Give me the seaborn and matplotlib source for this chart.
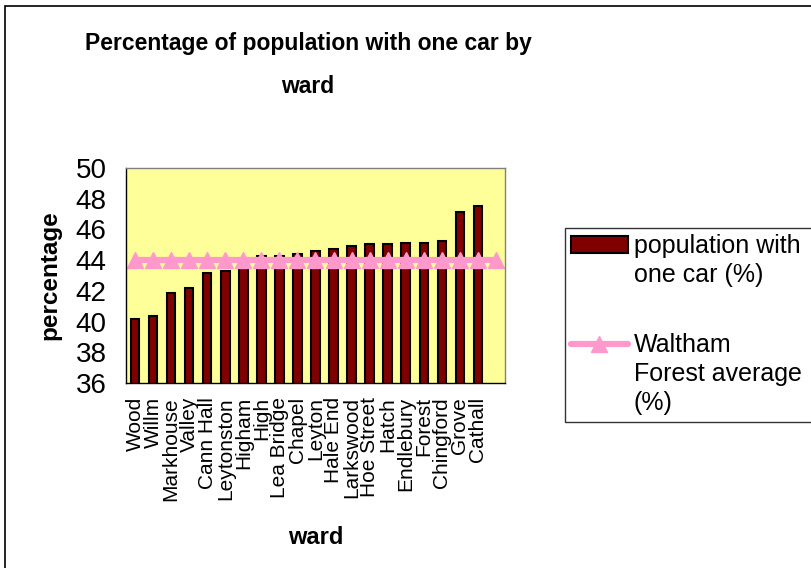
import seaborn as sns
import matplotlib.pyplot as plt
import matplotlib.patches as mpatches
from matplotlib.lines import Line2D
import pandas as pd
import numpy as np

# --- data ---
wards = ['Wood', 'Willm', 'Markhouse', 'Valley', 'Cann Hall', 'Leytonston',
         'Higham', 'High', 'Lea Bridge', 'Chapel', 'Leyton', 'Hale End',
         'Larkswood', 'Hoe Street', 'Hatch', 'Endlebury', 'Forest',
         'Chingford', 'Grove', 'Cathall', ' ']
one_car_pct = [40.17, 40.36, 41.88, 42.16, 43.18, 43.31, 43.95, 44.25, 44.30,
               44.42, 44.57, 44.75, 44.92, 45.05, 45.05, 45.12, 45.14, 45.22,
               47.11, 47.55, np.nan]
borough_avg = [44.0] * len(wards)

bar_label = ['population with', 'one car (%)']
line_label = ['Waltham', 'Forest average', '(%)']

df = pd.DataFrame({'ward': wards, 'one_car': one_car_pct, 'avg': borough_avg})

sns.set_style("white")
plt.rcParams['font.family'] = ['Liberation Sans', 'DejaVu Sans']
plt.rcParams['text.color'] = 'black'
plt.rcParams['axes.labelcolor'] = 'black'
plt.rcParams['xtick.color'] = 'black'
plt.rcParams['ytick.color'] = 'black'

BAR_COLOR = '#800000'
LINE_COLOR = '#FF99CC'

W, H = 811, 568
fig = plt.figure(figsize=(W / 100, H / 100), dpi=100)
ax = fig.add_axes([126 / W, 1 - 383 / H, (505 - 126) / W, (383 - 168) / H])
ax.set_facecolor('#FFFF99')

sns.barplot(data=df, x='ward', y='one_car', order=wards, color=BAR_COLOR,
            edgecolor='black', linewidth=1.5, width=0.47, ax=ax, saturation=1,
            errorbar=None)
sns.pointplot(data=df, x='ward', y='avg', order=wards, color=LINE_COLOR,
              markers='^', linestyles='-', errorbar=None, ax=ax,
              markersize=12, linewidth=4.5, markeredgecolor=LINE_COLOR,
              markerfacecolor=LINE_COLOR, markeredgewidth=1)

ax.set_ylim(36, 50)
ax.set_xlim(-0.5, len(wards) - 0.5)
ax.set_yticks(np.arange(36, 51, 2))
ax.set_xticks(np.arange(len(wards)))
ax.set_xticklabels(wards, rotation=90)
ax.set_xticks(np.arange(-0.5, len(wards)), minor=True)
ax.tick_params(axis='x', which='major', length=0, labelsize=15, pad=10)
ax.tick_params(axis='x', which='minor', length=8, direction='inout', width=1)
ax.tick_params(axis='y', length=8, direction='inout', width=1, labelsize=20, pad=10)

for s in ['top', 'right']:
    ax.spines[s].set_color('#808080')
for s in ['left', 'bottom']:
    ax.spines[s].set_color('black')
for s in ax.spines.values():
    s.set_linewidth(1)

ax.set_xlabel('ward', fontsize=17, fontweight='bold', labelpad=18)
ax.set_ylabel('percentage', fontsize=17.5, fontweight='bold', labelpad=10)

fig.text(308 / W, 1 - 65 / H, 'Percentage of population with one car by\nward',
         ha='center', va='center', fontsize=16.5, fontweight='bold',
         linespacing=2.1)

# legend: symbol sits next to the first line of each wrapped label;
# the box runs past the right edge of the picture as in the original
blank = Line2D([], [], alpha=0)
bar_handle = mpatches.Patch(facecolor=BAR_COLOR, edgecolor='black', linewidth=1.5)
line_handle = Line2D([], [], color=LINE_COLOR, linewidth=4.5, marker='^',
                     markersize=12, markeredgecolor=LINE_COLOR, markeredgewidth=1)
handles = [bar_handle] + [blank] * (len(bar_label) - 1) + [blank] + \
          [line_handle] + [blank] * (len(line_label) - 1)
labels = bar_label + [''] + line_label
leg = ax.legend(handles, labels, loc='upper left', mode='expand',
                bbox_to_anchor=(565 / W, 1 - 228 / H, 290 / W, 0),
                bbox_transform=fig.transFigure, fontsize=18, frameon=True,
                fancybox=False, edgecolor='black', handlelength=2.25,
                labelspacing=0.2, borderpad=0.25, handletextpad=0.25,
                borderaxespad=0)
leg.get_frame().set_linewidth(1)
leg.texts[len(bar_label)].set_fontsize(28)

# outer chart border
fig.patches.append(mpatches.Rectangle((5 / W, -0.01), 1.0, 1 - 6 / H + 0.01,
                                      transform=fig.transFigure, fill=False,
                                      edgecolor='black', linewidth=1.2))

fig.savefig('out.png', dpi=100)
